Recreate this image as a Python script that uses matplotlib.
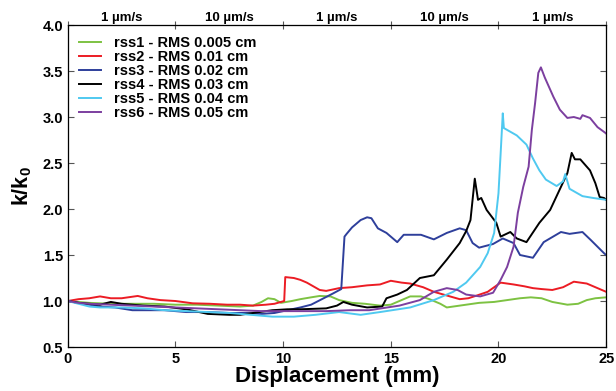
import matplotlib
matplotlib.use("Agg")
import matplotlib.pyplot as plt

plt.rcParams['font.family'] = ['Liberation Sans', 'DejaVu Sans']
plt.rcParams['font.weight'] = 'bold'
plt.rcParams['mathtext.fontset'] = 'custom'
plt.rcParams['mathtext.bf'] = 'Liberation Sans:bold'
plt.rcParams['mathtext.rm'] = 'Liberation Sans:bold'

# green - rss1
x1 = [0, 0.5, 1, 2, 3, 4, 5, 6, 7, 8, 8.6, 9.0, 9.3, 9.6, 9.9, 10.4, 10.8, 11.3, 11.7, 12.2,
      12.6, 13.2, 13.8, 14.5, 15.0, 15.4, 15.9, 16.4, 16.8, 17.3, 17.6, 18.2, 19.1, 19.8, 20.4,
      21.0, 21.5, 22.0, 22.5, 23.2, 23.7, 24.1, 24.5, 25]
y1 = [1.0, 0.99, 0.98, 0.97, 0.97, 0.97, 0.96, 0.96, 0.95, 0.94, 0.95, 0.99, 1.03, 1.02, 0.98,
      1.0, 1.02, 1.04, 1.055, 1.05, 1.01, 0.98, 0.97, 0.95, 0.96, 1.0, 1.05, 1.05, 1.02, 0.97,
      0.93, 0.95, 0.98, 0.99, 1.01, 1.03, 1.04, 1.03, 0.99, 0.96, 0.97, 1.01, 1.03, 1.04]

# red - rss2
x2 = [0, 0.5, 1.0, 1.5, 2.0, 2.5, 3.25, 3.7, 4.3, 5.0, 5.8, 6.6, 7.4, 8.0, 8.6, 9.2, 9.6, 9.9,
      10.05, 10.1, 10.5, 10.8, 11.1, 11.4, 11.7, 12.0, 12.6, 13.2, 13.9, 14.5, 15.0, 15.5, 15.9,
      16.5, 17.0, 17.6, 18.2, 18.6, 19.0, 19.5, 20.1, 20.7, 21.2, 21.6, 22.0, 22.5, 23.0, 23.5,
      24.1, 24.5, 24.9, 25]
y2 = [1.0, 1.02, 1.03, 1.05, 1.03, 1.03, 1.055, 1.03, 1.01, 1.0, 0.975, 0.97, 0.96, 0.96, 0.95,
      0.96, 0.97, 0.99, 1.0, 1.26, 1.25, 1.23, 1.2, 1.16, 1.12, 1.11, 1.14, 1.15, 1.17, 1.18,
      1.22, 1.2, 1.19, 1.15, 1.1, 1.06, 1.02, 1.03, 1.06, 1.1, 1.2, 1.18, 1.16, 1.14, 1.13, 1.12,
      1.15, 1.21, 1.19, 1.15, 1.11, 1.1]

# blue - rss3
x3 = [0, 0.5, 1.0, 1.5, 2.2, 3.0, 3.8, 4.5, 5.5, 6.5, 7.5, 8.3, 9.0, 9.6, 10.2, 10.8, 11.3,
      11.8, 12.3, 12.7, 12.85, 12.95, 13.2, 13.6, 13.9, 14.1, 14.4, 14.8, 15.3, 15.6, 16.4, 17.0,
      17.6, 18.2, 18.5, 18.8, 19.1, 19.75, 20.2, 20.7, 21.0, 21.6, 22.1, 22.9, 23.3, 23.9, 24.3,
      24.9, 25]
y3 = [1.0, 0.98, 0.96, 0.94, 0.93, 0.9, 0.9, 0.9, 0.88, 0.88, 0.87, 0.87, 0.86, 0.87, 0.9,
      0.93, 0.96, 1.02, 1.08, 1.13, 1.70, 1.73, 1.8, 1.88, 1.91, 1.9, 1.79, 1.74, 1.64, 1.72,
      1.72, 1.67, 1.74, 1.79, 1.77, 1.63, 1.58, 1.62, 1.68, 1.63, 1.5, 1.47, 1.64, 1.75, 1.73,
      1.75, 1.66, 1.52, 1.5]

# black - rss4
x4 = [0, 0.5, 1.0, 1.5, 2.0, 2.5, 3.5, 4.5, 5.5, 6.5, 7.5, 8.0, 8.6, 9.5, 10.2, 10.8, 12.0,
      12.5, 12.8, 13.2, 13.9, 14.6, 14.8, 15.3, 15.75, 16.35, 17.0, 17.6, 18.2, 18.5, 18.7, 18.9,
      19.05, 19.2, 19.45, 19.9, 20.1, 20.55, 20.85, 21.3, 21.9, 22.4, 22.9, 23.2, 23.4, 23.55,
      23.8, 24.25, 24.5, 24.7, 24.9, 25]
y4 = [1.0, 0.98, 0.97, 0.96, 0.99, 0.97, 0.95, 0.94, 0.91, 0.86, 0.85, 0.85, 0.87, 0.9, 0.91,
      0.91, 0.92, 0.95, 0.99, 0.96, 0.93, 0.94, 1.03, 1.07, 1.12, 1.25, 1.28, 1.45, 1.63, 1.76,
      1.88, 2.33, 2.1, 2.12, 1.99, 1.85, 1.7, 1.75, 1.68, 1.64, 1.85, 1.99, 2.24, 2.39, 2.61,
      2.54, 2.54, 2.42, 2.28, 2.13, 2.12, 2.1]

# cyan - rss5
x5 = [0, 0.5, 1.0, 1.5, 2.5, 3.5, 4.5, 5.5, 6.5, 7.5, 8.5, 9.5, 10.5, 11.5, 12.6, 13.6, 14.5,
      15.9, 17.0, 17.9, 18.5, 19.15, 19.5, 19.8, 20.0, 20.1, 20.2, 20.25, 20.85, 21.3, 21.6,
      21.9, 22.2, 22.7, 23.0, 23.1, 23.3, 23.9, 24.4, 25]
y5 = [1.0, 0.97, 0.94, 0.93, 0.93, 0.92, 0.9, 0.89, 0.88, 0.87, 0.85, 0.83, 0.83, 0.85, 0.88,
      0.85, 0.88, 0.93, 1.01, 1.1, 1.2, 1.37, 1.52, 1.74, 2.17, 2.6, 3.04, 2.88, 2.8, 2.7, 2.55,
      2.42, 2.32, 2.25, 2.3, 2.38, 2.22, 2.14, 2.12, 2.1]

# purple - rss6
x6 = [0, 0.5, 1, 2, 3, 4, 5, 6, 7, 8, 9, 10, 11, 12, 13.1, 14, 15.4, 16.35, 17.0, 17.6, 18.1,
      18.5, 19.15, 19.75, 20.1, 20.4, 20.7, 20.9, 21.15, 21.4, 21.55, 21.7, 21.85, 21.97, 22.15,
      22.55, 22.85, 23.2, 23.5, 23.8, 23.9, 24.25, 24.6, 24.95, 25]
y6 = [1.0, 0.98, 0.97, 0.96, 0.95, 0.94, 0.93, 0.92, 0.91, 0.9, 0.89, 0.89, 0.89, 0.89, 0.9,
      0.9, 0.95, 1.01, 1.1, 1.14, 1.12, 1.07, 1.05, 1.09, 1.23, 1.37, 1.59, 1.96, 2.24, 2.46,
      2.86, 3.15, 3.48, 3.54, 3.43, 3.22, 3.08, 2.99, 3.0, 2.98, 3.02, 2.99, 2.89, 2.83, 2.82]

labels = ["rss1 - RMS 0.005 cm", "rss2 - RMS 0.01 cm", "rss3 - RMS 0.02 cm",
          "rss4 - RMS 0.03 cm", "rss5 - RMS 0.04 cm", "rss6 - RMS 0.05 cm"]
colors = ["#7dc242", "#ec1c24", "#2e3f9b", "#000000", "#4fc9f0", "#7c3f9f"]

rate_labels = ["1 µm/s", "10 µm/s", "1 µm/s", "10 µm/s", "1 µm/s"]
rate_edges = [0, 5, 10, 15, 20, 25]

fig = plt.figure(figsize=(6.16, 3.91), dpi=100)
ax = fig.add_axes([0.110, 0.1125, 0.874, 0.8235])

for xs, ys, c, lab in zip([x1, x2, x3, x4, x5, x6], [y1, y2, y3, y4, y5, y6], colors, labels):
    ax.plot(xs, ys, color=c, lw=1.4, label=lab)

ax.set_xlim(0, 25)
ax.set_ylim(0.5, 4.0)
ax.set_xticks([0, 5, 10, 15, 20, 25])
ax.set_yticks([0.5, 1.0, 1.5, 2.0, 2.5, 3.0, 3.5, 4.0])
ax.set_yticklabels(["%.1f" % v for v in ax.get_yticks()])
ax.tick_params(direction="in", length=4, width=0.8, labelsize=10.5, right=True, color="#555555")
for s in ax.spines.values():
    s.set_color("#555555")
    s.set_linewidth(0.9)

ax.set_xlabel("Displacement (mm)", fontsize=16, fontweight="bold", labelpad=0)
ax.set_ylabel(r"k/k$_\mathbf{0}$", fontsize=15.5, fontweight="bold", labelpad=6)

top = ax.twiny()
top.set_xlim(0, 25)
top.set_xticks(rate_edges)
top.set_xticklabels([])
top.set_xticks([(a + b) / 2 for a, b in zip(rate_edges[:-1], rate_edges[1:])], minor=True)
top.set_xticklabels(rate_labels, minor=True, fontsize=9.5, fontweight="bold")
top.tick_params(which="major", direction="inout", length=6, width=0.8, color="#555555")
top.tick_params(which="minor", length=0, pad=1)

ax.legend(loc="upper left", frameon=False, handlelength=1.55, handletextpad=0.9,
          labelspacing=0.0, borderaxespad=0.25, borderpad=0.5,
          prop={"weight": "bold", "size": 10.5})

fig.savefig("out.png", dpi=100)
